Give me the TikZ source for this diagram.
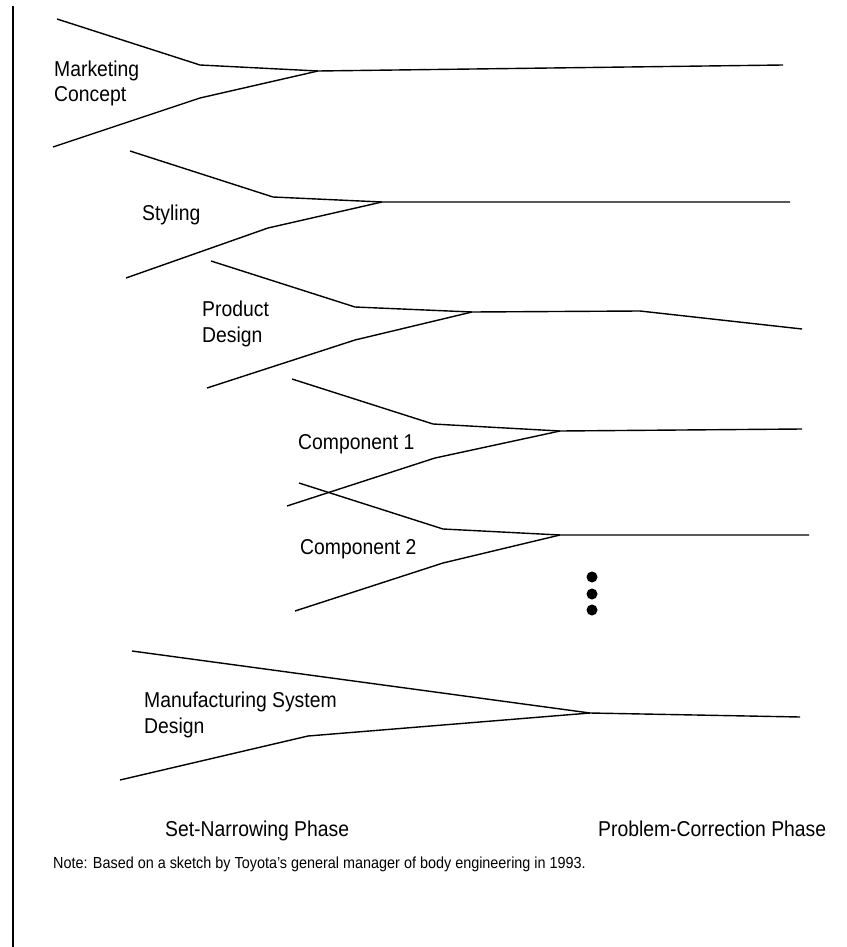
\documentclass[tikz,border=0pt]{standalone}
\usepackage{fontspec}
\setmainfont{Liberation Sans}[FakeStretch=0.9]
\usetikzlibrary{positioning}
\tikzset{
  branch/.style={line width=1.4pt, line join=round},
  lbl/.style={anchor=base west, inner sep=0pt, align=left, font=\fontsize{21.5}{25.5}\selectfont},
  phase/.style={anchor=base west, inner sep=0pt, font=\fontsize{21.5}{24}\selectfont},
  note/.style={anchor=base west, inner sep=0pt, font=\fontsize{16}{18}\selectfont},
}

\begin{document}
\begin{tikzpicture}[x=1pt,y=-1pt]
    \useasboundingbox (0,0) rectangle (846,947);
    \draw[line width=1.2pt] (13,6) -- (13,947);

    % marketing concept
    \coordinate (mc) at (318,71);
    \draw[branch] (57,19) -- (200,65) -- (mc) -- (783,65);
    \draw[branch] (53,147) -- (200,98) -- (mc);
    \node[lbl] (mclbl) at (54,102) {Marketing\\Concept};

    % styling
    \coordinate (st) at (382,202);
    \draw[branch] (130,151) -- (273,197) -- (st) -- (790,202);
    \draw[branch] (126,278) -- (268,228) -- (st);
    \node[lbl] (stlbl) at (142,220) {Styling};

    % product design
    \coordinate (pd) at (472,312);
    \draw[branch] (211,261) -- (355,307) -- (pd) -- (640,311) -- (802,329);
    \draw[branch] (207,388) -- (355,340) -- (pd);
    \node[lbl] (pdlbl) at (202,342) {Product\\Design};

    % component 1
    \coordinate (c1) at (560,431);
    \draw[branch] (292,379) -- (433,424) -- (c1) -- (802,429);
    \draw[branch] (287,506) -- (435,458) -- (c1);
    \node[lbl] (c1lbl) at (298,449) {Component 1};

    % component 2
    \coordinate (c2) at (560,535);
    \draw[branch] (299,483) -- (443,529) -- (c2) -- (809,535);
    \draw[branch] (295,611) -- (443,563) -- (c2);
    \node[lbl] (c2lbl) at (300,554) {Component 2};

    % more components
    \fill (592,577) circle (5.5pt);
    \fill (592,594) circle (5.5pt);
    \fill (592,610) circle (5.5pt);

    % manufacturing system design
    \coordinate (ms) at (590,713);
    \draw[branch] (132,651) -- (ms) -- (800,717);
    \draw[branch] (120,780) -- (308,736) -- (ms);
    \node[lbl] (mslbl) at (144,733) {Manufacturing System\\Design};

    % phases
    \node[phase] (snp) at (165,836) {Set-Narrowing Phase};
    \node[phase] (pcp) at (598,836) {Problem-Correction Phase};

    \node[note] (note) at (53,868) {Note: Based on a sketch by Toyota's general manager of body engineering in 1993.};
\end{tikzpicture}
\end{document}
